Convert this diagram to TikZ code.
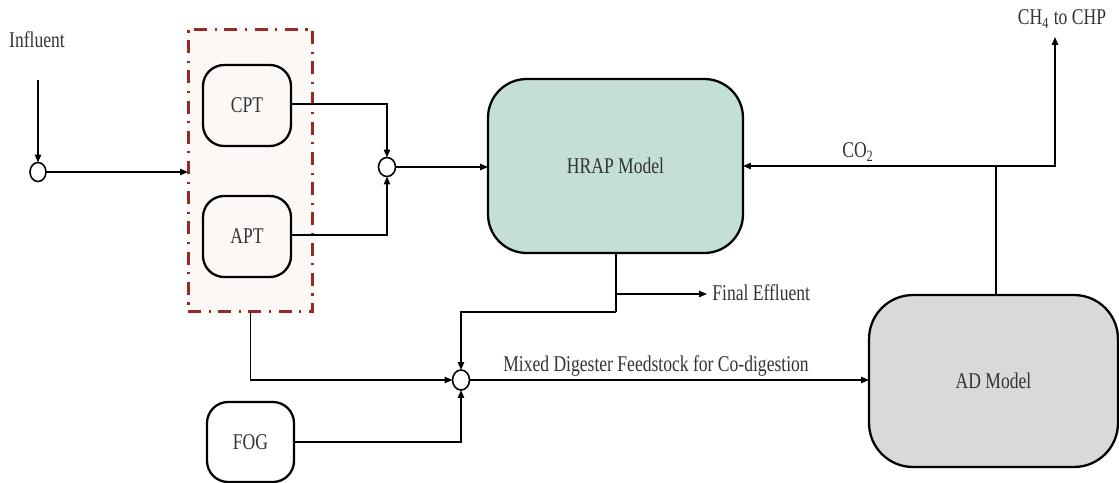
\documentclass[tikz,border=0pt]{standalone}
\usepackage{fontspec}
\setmainfont{Liberation Serif}
\usetikzlibrary{arrows.meta,shapes.geometric}
\definecolor{hrapfill}{HTML}{C4E0D5}
\definecolor{adfill}{HTML}{D9D9D9}
\definecolor{grpline}{HTML}{982A24}
\definecolor{grpfill}{HTML}{FCF8F6}
\definecolor{inkgray}{HTML}{333333}
% tall-set text, as in the original figure
\newcommand{\tallText}[1]{\scalebox{1}[1.28]{#1}}
\tikzset{
  unit/.style={draw, line width=1.3pt, rounded corners=12pt, inner sep=0pt, outer sep=0pt,
    font=\fontsize{10}{12}\selectfont, text=inkgray},
  bigunit/.style={unit, rounded corners=22pt},
  junction/.style={draw, ellipse, line width=0.9pt, fill=white, inner sep=0pt, outer sep=0pt},
  arr/.style={line width=0.85pt, -{Triangle[length=4.5pt,width=3.6pt]}},
  flow/.style={line width=0.85pt},
  lbl/.style={font=\fontsize{10}{12}\selectfont, inner sep=0pt, text=inkgray},
  group/.style={draw=grpline, fill=grpfill, line width=1.7pt, inner sep=0pt, outer sep=0pt,
    dash pattern=on 7.4pt off 4.3pt on 1.2pt off 4.3pt}
}
\begin{document}
\begin{tikzpicture}[x=0.02cm, y=-0.02cm]
\useasboundingbox (0,0) rectangle (1119,483);

% pretreatment group
\node[group, minimum width=2.5cm, minimum height=5.66cm] (ptbox) at (250.5,170.5) {};

% process units
\node[unit, fill=grpfill, minimum width=1.76cm, minimum height=1.62cm] (cpt) at (247,105.5) {\tallText{CPT}};
\node[unit, fill=grpfill, minimum width=1.76cm, minimum height=1.62cm] (apt) at (247,236.5) {\tallText{APT}};
\node[unit, fill=white, minimum width=1.74cm, minimum height=1.6cm] (fog) at (250.5,442) {\tallText{FOG}};
\node[bigunit, fill=hrapfill, minimum width=5.1cm, minimum height=3.48cm] (hrap) at (615.5,166) {\tallText{HRAP Model}};
\node[bigunit, fill=adfill, rounded corners=25pt, minimum width=4.98cm, minimum height=3.44cm] (ad) at (993.5,381) {\tallText{AD Model}};

% junctions
\node[junction, minimum width=0.32cm, minimum height=0.38cm] (in1) at (38,172) {};
\node[junction, minimum width=0.34cm, minimum height=0.38cm] (mix1) at (387,167) {};
\node[junction, minimum width=0.34cm, minimum height=0.40cm] (mix2) at (461,380) {};

% free ends and bends
\coordinate (infsrc) at (38,80);
\coordinate (hrapout) at (616,312);
\coordinate (effl) at (616,294);
\coordinate (effend) at (707,294);
\coordinate (split) at (996,166);
\coordinate (chp) at (1055,37);

% labels
\node[lbl] at (37,40) {\tallText{Influent}};
\node[lbl, anchor=west] at (712,293) {\tallText{Final Effluent}};
\node[lbl] at (656,366) {\tallText{Mixed Digester Feedstock for Co-digestion}};
\node[lbl] at (858,152) {\tallText{CO\textsubscript{2}}};
\node[lbl] at (1062,19) {\tallText{CH\textsubscript{4} to CHP}};

% influent into pretreatment
\draw[arr] (infsrc) -- (in1);
\draw[arr] (in1.east) -- (in1.east -| ptbox.west);

% pretreatment outputs to HRAP
\draw[arr] (cpt.east |- 0,104) -| (mix1.north);
\draw[arr] (apt.east |- 0,235) -| (mix1.south);
\draw[arr] (mix1.east) -- (hrap.west |- mix1.east);

% HRAP outflows
\draw[flow] (hrap.south -| effl) -- (hrapout);
\draw[arr] (effl) -- (effend);
\draw[arr] (hrapout) -| (mix2.north);

% digester feed
\draw[arr] (ptbox.south) |- (mix2.west);
\draw[arr] (fog.east) -| (mix2.south);
\draw[arr] (mix2.east) -- (ad.west |- mix2.east);

% biogas
\draw[flow] (ad.north -| split) -- (split);
\draw[arr] (split) -- (hrap.east |- split);
\draw[arr] (split) -| (chp);
\end{tikzpicture}
\end{document}
